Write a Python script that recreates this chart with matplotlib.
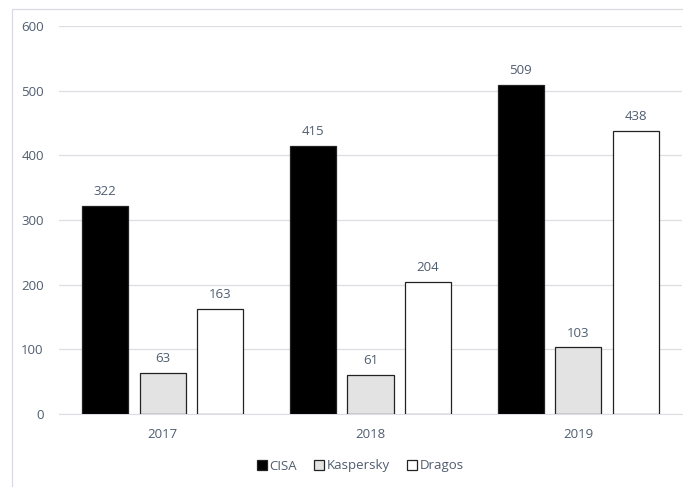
import numpy as np
import matplotlib.pyplot as plt
from matplotlib.patches import Rectangle

years = ["2017", "2018", "2019"]
cisa = [322, 415, 509]
kaspersky = [63, 61, 103]
dragos = [163, 204, 438]

series_names = ["CISA", "Kaspersky", "Dragos"]
series_vals = [cisa, kaspersky, dragos]
fills = ["#000000", "#e3e3e3", "#ffffff"]

txt = "#4f5d70"
grid = "#dcdee3"
fs = 9.5

plt.rcParams['font.family'] = ['Open Sans', 'DejaVu Sans']

fig = plt.figure(figsize=(6.83, 4.87), dpi=100)
ax = fig.add_axes([59 / 683, 73 / 487, 623 / 683, 388 / 487])

x = np.arange(len(years))
width = 0.222
pitch = 0.277
for i, (name, vals, fc) in enumerate(zip(series_names, series_vals, fills)):
    pos = x + (i - 1) * pitch
    bars = ax.bar(pos, vals, width, color=fc, edgecolor="#222222", linewidth=0.9, label=name, zorder=3)
    for b, v in zip(bars, vals):
        ax.text(b.get_x() + b.get_width() / 2, v + 12, str(v), ha="center", va="bottom",
                fontsize=fs, color=txt)

ax.set_xlim(-0.5, 2.5)
ax.set_ylim(0, 600)
ax.set_yticks(range(0, 601, 100))
ax.set_xticks(x)
ax.set_xticklabels(years)
ax.grid(axis="y", color=grid, linewidth=0.9, zorder=0)
for s in ["top", "right", "left"]:
    ax.spines[s].set_visible(False)
ax.spines["bottom"].set_color(grid)
ax.tick_params(axis="both", length=0, labelsize=fs, labelcolor=txt)
ax.tick_params(axis="y", pad=11)
ax.tick_params(axis="x", pad=10)

leg = fig.legend(loc="center", bbox_to_anchor=(360 / 683, 1 - 466 / 487), ncol=3, frameon=False,
                 fontsize=fs, handlelength=0.75, handleheight=0.75, handletextpad=0.2,
                 columnspacing=1.3, labelcolor=txt)

# chart border
fig.patches.append(Rectangle((12 / 683, -0.1), 1.0, 1 - 9 / 487 + 0.1, transform=fig.transFigure,
                             fill=False, edgecolor="#d9dbe0", linewidth=0.9))

fig.savefig("out.png", dpi=100)
